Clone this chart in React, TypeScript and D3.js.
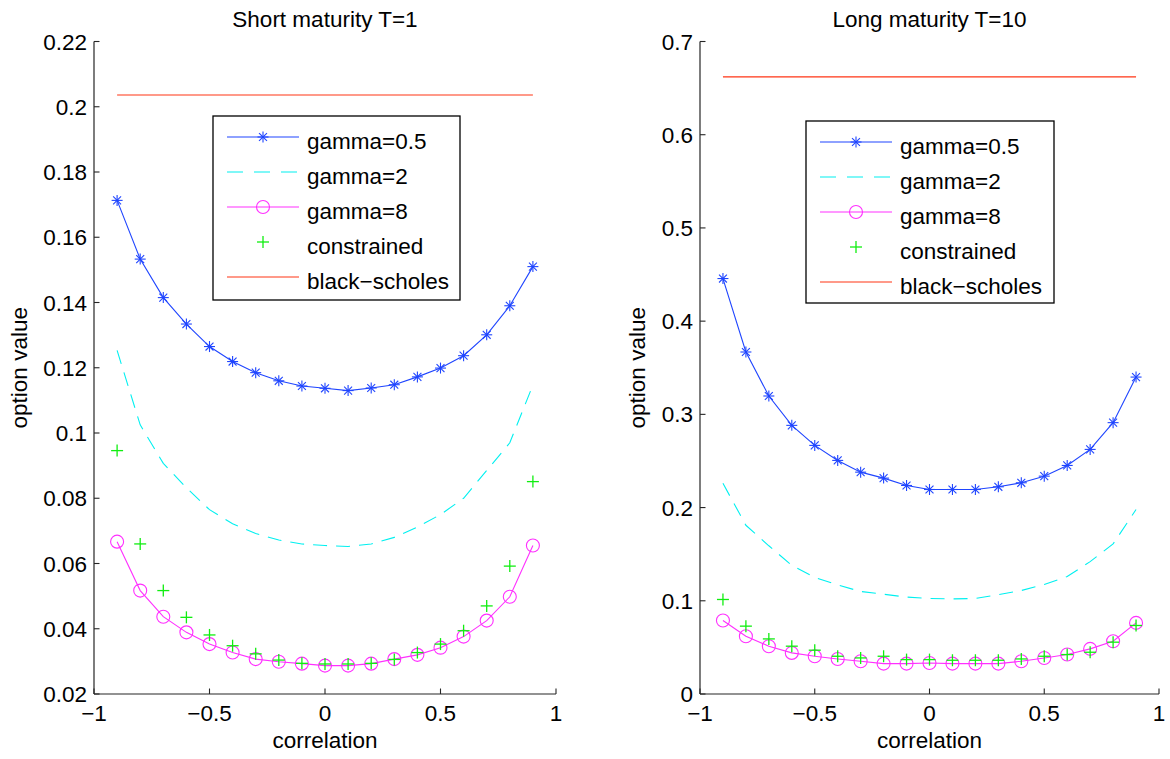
import React from "react";
import * as d3 from "d3";

// ---- data ----
const correlation = [-0.9, -0.8, -0.7, -0.6, -0.5, -0.4, -0.3, -0.2, -0.1, 0, 0.1, 0.2, 0.3, 0.4, 0.5, 0.6, 0.7, 0.8, 0.9];

// Short maturity T=1
const shortGamma05 = [0.1713, 0.1533, 0.1415, 0.1334, 0.1265, 0.1219, 0.1185, 0.1160, 0.1144, 0.1137, 0.1130, 0.1138, 0.1148, 0.1172, 0.1199, 0.1237, 0.1301, 0.1390, 0.1510];
const shortGamma2 = [0.1253, 0.1025, 0.0907, 0.0832, 0.0765, 0.0722, 0.0692, 0.0672, 0.0660, 0.0655, 0.0652, 0.0660, 0.0680, 0.0712, 0.0750, 0.0800, 0.0885, 0.0970, 0.1147];
const shortGamma8 = [0.0667, 0.0517, 0.0437, 0.0389, 0.0353, 0.0327, 0.0307, 0.0299, 0.0293, 0.0287, 0.0287, 0.0293, 0.0307, 0.0320, 0.0342, 0.0376, 0.0425, 0.0498, 0.0655];
const shortConstrained = [0.0946, 0.0660, 0.0517, 0.0435, 0.0381, 0.0348, 0.0323, 0.0304, 0.0294, 0.0292, 0.0292, 0.0294, 0.0306, 0.0327, 0.0353, 0.0394, 0.0470, 0.0592, 0.0851];
const shortBlackScholes = 0.2036;

// Long maturity T=10
const longGamma05 = [0.4457, 0.3669, 0.3197, 0.2882, 0.2667, 0.2506, 0.2380, 0.2316, 0.2237, 0.2194, 0.2194, 0.2194, 0.2223, 0.2266, 0.2337, 0.2452, 0.2624, 0.2911, 0.3400];
const longGamma2 = [0.2260, 0.1810, 0.1590, 0.1380, 0.1250, 0.1170, 0.1100, 0.1070, 0.1040, 0.1025, 0.1020, 0.1025, 0.1065, 0.1110, 0.1175, 0.1260, 0.1420, 0.1610, 0.1980];
const longGamma8 = [0.0789, 0.0620, 0.0513, 0.0441, 0.0405, 0.0376, 0.0351, 0.0326, 0.0326, 0.0333, 0.0326, 0.0326, 0.0326, 0.0351, 0.0387, 0.0423, 0.0484, 0.0566, 0.0763];
const longConstrained = [0.1014, 0.0728, 0.0591, 0.0513, 0.0470, 0.0405, 0.0387, 0.0405, 0.0369, 0.0369, 0.0362, 0.0362, 0.0362, 0.0376, 0.0405, 0.0423, 0.0448, 0.0556, 0.0735];
const longBlackScholes = 0.6620;

const xTicks = [-1, -0.5, 0, 0.5, 1];
const xTickLabels = ["\u22121", "\u22120.5", "0", "0.5", "1"];
const shortYTicks = [0.02, 0.04, 0.06, 0.08, 0.1, 0.12, 0.14, 0.16, 0.18, 0.2, 0.22];
const shortYTickLabels = ["0.02", "0.04", "0.06", "0.08", "0.1", "0.12", "0.14", "0.16", "0.18", "0.2", "0.22"];
const longYTicks = [0, 0.1, 0.2, 0.3, 0.4, 0.5, 0.6, 0.7];
const longYTickLabels = ["0", "0.1", "0.2", "0.3", "0.4", "0.5", "0.6", "0.7"];
const legendLabels = ["gamma=0.5", "gamma=2", "gamma=8", "constrained", "black\u2212scholes"];

// ---- style ----
const FONT = "'Liberation Sans', Arial, Helvetica, sans-serif";
const FS = 22.5;
const BLUE = "#1f45ff";
const CYAN = "#00f0f0";
const MAGENTA = "#ff30ff";
const GREEN = "#10ee10";
const RED = "#ff3515";
const AXIS = "#262626";

type PanelProps = {
  title: string;
  left: number;
  right: number;
  yDomain: [number, number];
  yTicks: number[];
  yTickLabels: string[];
  g05: number[];
  g2: number[];
  g8: number[];
  cons: number[];
  bs: number;
  legend: { x: number; y: number; w: number; h: number };
  ylabelX: number;
};

const TOP = 41.5;
const BOTTOM = 694;

function Star({ x, y, color }: { x: number; y: number; color: string }) {
  const s = 5.5;
  const d = s * 0.72;
  return (
    <g stroke={color} strokeWidth={1.1}>
      <line x1={x - s} y1={y} x2={x + s} y2={y} />
      <line x1={x} y1={y - s} x2={x} y2={y + s} />
      <line x1={x - d} y1={y - d} x2={x + d} y2={y + d} />
      <line x1={x - d} y1={y + d} x2={x + d} y2={y - d} />
    </g>
  );
}

function Plus({ x, y, color }: { x: number; y: number; color: string }) {
  const s = 6;
  return (
    <g stroke={color} strokeWidth={1.3}>
      <line x1={x - s} y1={y} x2={x + s} y2={y} />
      <line x1={x} y1={y - s} x2={x} y2={y + s} />
    </g>
  );
}

function Panel(p: PanelProps) {
  const xs = d3.scaleLinear().domain([-1, 1]).range([p.left, p.right]);
  const ys = d3.scaleLinear().domain(p.yDomain).range([BOTTOM, TOP]);
  const line = d3
    .line<number>()
    .x((_, i) => xs(correlation[i]))
    .y((v) => ys(v));
  const cx = (p.left + p.right) / 2;
  const L = p.legend;
  const rowY = (i: number) => L.y + 21 + 35 * i;
  const sx1 = L.x + 14;
  const sx2 = L.x + 86;
  const smid = (sx1 + sx2) / 2;
  const tx = L.x + 94;
  return (
    <g>
      {/* title */}
      <text x={cx} y={27} textAnchor="middle" fontFamily={FONT} fontSize={FS} fill="#000">
        {p.title}
      </text>
      {/* axes */}
      <line x1={p.left} y1={TOP} x2={p.left} y2={BOTTOM} stroke={AXIS} strokeWidth={1.2} />
      <line x1={p.left} y1={BOTTOM} x2={p.right} y2={BOTTOM} stroke={AXIS} strokeWidth={1.2} />
      {p.yTicks.map((t, i) => (
        <g key={"y" + i}>
          <line x1={p.left} x2={p.left + 5.5} y1={ys(t)} y2={ys(t)} stroke={AXIS} strokeWidth={1.1} />
          <text x={p.left - 7} y={ys(t)} dy="0.36em" textAnchor="end" fontFamily={FONT} fontSize={FS} fill="#000">
            {p.yTickLabels[i]}
          </text>
        </g>
      ))}
      {xTicks.map((t, i) => (
        <g key={"x" + i}>
          <line x1={xs(t)} x2={xs(t)} y1={BOTTOM} y2={BOTTOM - 5.5} stroke={AXIS} strokeWidth={1.1} />
          <text x={xs(t)} y={721} textAnchor="middle" fontFamily={FONT} fontSize={FS} fill="#000">
            {xTickLabels[i]}
          </text>
        </g>
      ))}
      <text x={cx} y={748} textAnchor="middle" fontFamily={FONT} fontSize={FS} fill="#000">
        correlation
      </text>
      <text
        transform={`translate(${p.ylabelX},${(TOP + BOTTOM) / 2}) rotate(-90)`}
        textAnchor="middle"
        fontFamily={FONT}
        fontSize={FS}
        fill="#000"
      >
        option value
      </text>

      {/* gamma=0.5 */}
      <path d={line(p.g05) || ""} fill="none" stroke={BLUE} strokeWidth={1.1} />
      {p.g05.map((v, i) => (
        <Star key={"s" + i} x={xs(correlation[i])} y={ys(v)} color={BLUE} />
      ))}
      {/* gamma=2 */}
      <path d={line(p.g2) || ""} fill="none" stroke={CYAN} strokeWidth={1.1} strokeDasharray="14 9" />
      {/* gamma=8 */}
      <path d={line(p.g8) || ""} fill="none" stroke={MAGENTA} strokeWidth={1.1} />
      {p.g8.map((v, i) => (
        <circle key={"c" + i} cx={xs(correlation[i])} cy={ys(v)} r={6.5} fill="none" stroke={MAGENTA} strokeWidth={1.1} />
      ))}
      {/* constrained */}
      {p.cons.map((v, i) => (
        <Plus key={"p" + i} x={xs(correlation[i])} y={ys(v)} color={GREEN} />
      ))}
      {/* black-scholes */}
      <line
        x1={xs(correlation[0])}
        x2={xs(correlation[correlation.length - 1])}
        y1={ys(p.bs)}
        y2={ys(p.bs)}
        stroke={RED}
        strokeWidth={1.1}
      />

      {/* legend */}
      <rect x={L.x} y={L.y} width={L.w} height={L.h} fill="#fff" stroke="#000" strokeWidth={1.3} />
      <line x1={sx1} x2={sx2} y1={rowY(0)} y2={rowY(0)} stroke={BLUE} strokeWidth={1.1} />
      <Star x={smid} y={rowY(0)} color={BLUE} />
      <line x1={sx1} x2={sx2} y1={rowY(1)} y2={rowY(1)} stroke={CYAN} strokeWidth={1.1} strokeDasharray="16 11" />
      <line x1={sx1} x2={sx2} y1={rowY(2)} y2={rowY(2)} stroke={MAGENTA} strokeWidth={1.1} />
      <circle cx={smid} cy={rowY(2)} r={6.5} fill="none" stroke={MAGENTA} strokeWidth={1.1} />
      <Plus x={smid} y={rowY(3)} color={GREEN} />
      <line x1={sx1} x2={sx2} y1={rowY(4)} y2={rowY(4)} stroke={RED} strokeWidth={1.1} />
      {legendLabels.map((lab, i) => (
        <text key={"l" + i} x={tx} y={rowY(i) + 12} fontFamily={FONT} fontSize={FS} fill="#000">
          {lab}
        </text>
      ))}
    </g>
  );
}

export default function App() {
  return (
    <svg
      width={1170}
      height={759}
      viewBox="0 0 1170 759"
      style={{ position: "absolute", left: 0, top: 0, background: "#fff" }}
    >
      <rect x={0} y={0} width={1170} height={759} fill="#fff" />
      <Panel
        title="Short maturity T=1"
        left={94}
        right={556}
        yDomain={[0.02, 0.22]}
        yTicks={shortYTicks}
        yTickLabels={shortYTickLabels}
        g05={shortGamma05}
        g2={shortGamma2}
        g8={shortGamma8}
        cons={shortConstrained}
        bs={shortBlackScholes}
        legend={{ x: 213, y: 116, w: 247, h: 184 }}
        ylabelX={27}
      />
      <Panel
        title="Long maturity T=10"
        left={700}
        right={1159}
        yDomain={[0, 0.7]}
        yTicks={longYTicks}
        yTickLabels={longYTickLabels}
        g05={longGamma05}
        g2={longGamma2}
        g8={longGamma8}
        cons={longConstrained}
        bs={longBlackScholes}
        legend={{ x: 806, y: 121, w: 248, h: 182 }}
        ylabelX={645}
      />
    </svg>
  );
}
